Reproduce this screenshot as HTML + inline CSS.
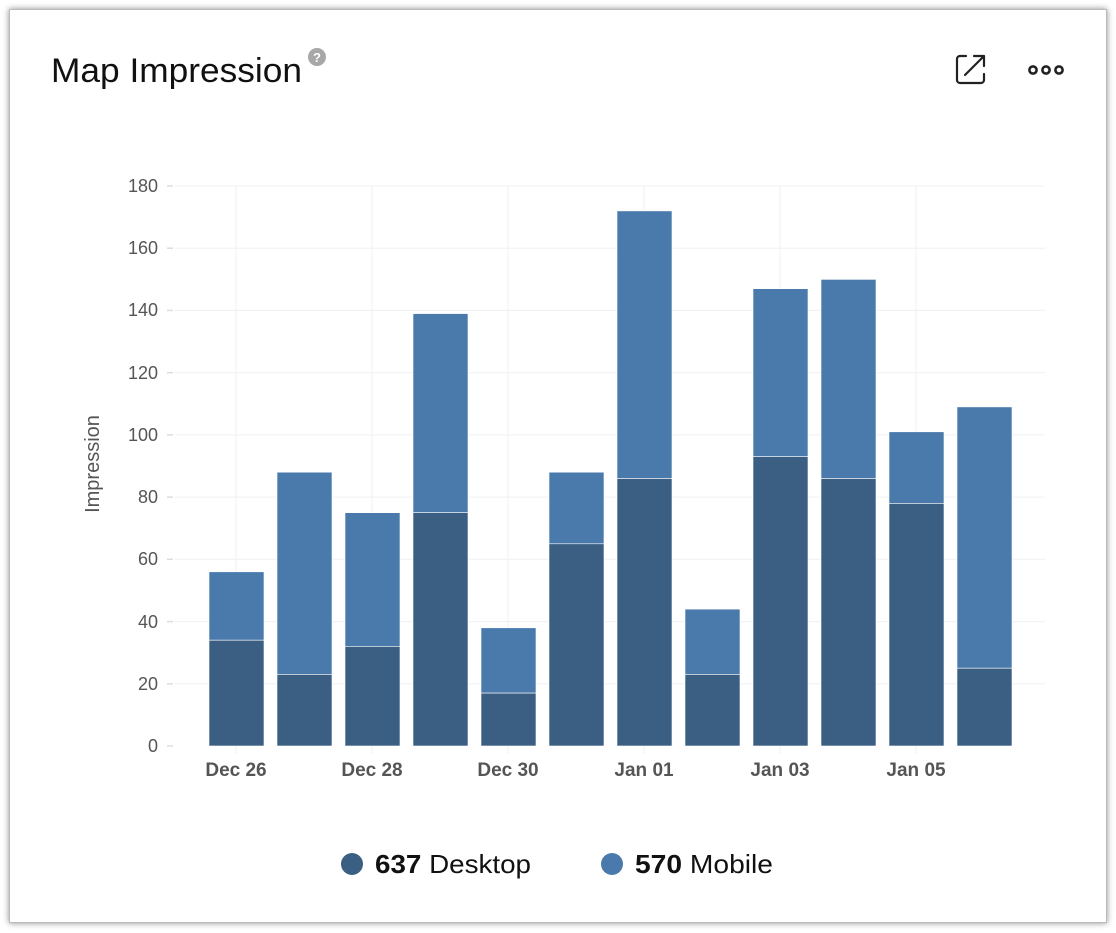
<!DOCTYPE html>
<html><head><meta charset="utf-8"><style>
body{margin:0;width:1116px;height:933px;background:#fff;font-family:"Liberation Sans",sans-serif;overflow:hidden}
.card{position:absolute;left:9px;top:9px;width:1096px;height:912px;border:1px solid #bbb;box-shadow:0 0 6px rgba(0,0,0,.45);background:#fff}
</style></head><body>
<div class="card"></div>
<svg width="1116" height="933" style="position:absolute;left:0;top:0" font-family="Liberation Sans, sans-serif">
<text x="51" y="82" font-size="34" fill="#111" textLength="251" lengthAdjust="spacingAndGlyphs">Map Impression</text>
<circle cx="317" cy="57" r="9" fill="#a8a8a8"/><text x="317" y="62" font-size="13" font-weight="bold" fill="#fff" text-anchor="middle">?</text>
<g fill="none" stroke="#222" stroke-width="2.2" stroke-linecap="round" stroke-linejoin="round">
<path d="M966 56 H960 a3 3 0 0 0 -3 3 V80 a3 3 0 0 0 3 3 H981 a3 3 0 0 0 3 -3 V74"/>
<path d="M965 75 L984 56 M974 56 H984 V66"/>
</g>
<g fill="none" stroke="#222" stroke-width="2.6"><circle cx="1033" cy="70" r="3.6"/><circle cx="1046" cy="70" r="3.6"/><circle cx="1059" cy="70" r="3.6"/></g>
<g stroke="#f0f0f0" stroke-width="1">
<line x1="175" x2="1045" y1="186" y2="186"/><line x1="175" x2="1045" y1="248.2" y2="248.2"/><line x1="175" x2="1045" y1="310.4" y2="310.4"/><line x1="175" x2="1045" y1="372.7" y2="372.7"/><line x1="175" x2="1045" y1="434.9" y2="434.9"/><line x1="175" x2="1045" y1="497.1" y2="497.1"/><line x1="175" x2="1045" y1="559.3" y2="559.3"/><line x1="175" x2="1045" y1="621.6" y2="621.6"/><line x1="175" x2="1045" y1="683.8" y2="683.8"/>
<line x1="236" x2="236" y1="186" y2="754"/><line x1="372" x2="372" y1="186" y2="754"/><line x1="508" x2="508" y1="186" y2="754"/><line x1="644" x2="644" y1="186" y2="754"/><line x1="780" x2="780" y1="186" y2="754"/><line x1="916" x2="916" y1="186" y2="754"/>
</g>
<g stroke="#ddd" stroke-width="1.5">
<line x1="167" x2="173" y1="186" y2="186"/><line x1="167" x2="173" y1="248.2" y2="248.2"/><line x1="167" x2="173" y1="310.4" y2="310.4"/><line x1="167" x2="173" y1="372.7" y2="372.7"/><line x1="167" x2="173" y1="434.9" y2="434.9"/><line x1="167" x2="173" y1="497.1" y2="497.1"/><line x1="167" x2="173" y1="559.3" y2="559.3"/><line x1="167" x2="173" y1="621.6" y2="621.6"/><line x1="167" x2="173" y1="683.8" y2="683.8"/><line x1="167" x2="173" y1="746" y2="746"/>
</g>
<g font-size="18" fill="#555" text-anchor="end">
<text x="158" y="192">180</text><text x="158" y="254">160</text><text x="158" y="316">140</text><text x="158" y="379">120</text><text x="158" y="441">100</text><text x="158" y="503">80</text><text x="158" y="565">60</text><text x="158" y="628">40</text><text x="158" y="690">20</text><text x="158" y="752">0</text>
</g>
<text transform="translate(99,464) rotate(-90)" font-size="20" fill="#555" text-anchor="middle">Impression</text>
<g font-size="19" font-weight="bold" fill="#555" text-anchor="middle">
<text x="236" y="776">Dec 26</text><text x="372" y="776">Dec 28</text><text x="508" y="776">Dec 30</text><text x="644" y="776">Jan 01</text><text x="780" y="776">Jan 03</text><text x="916" y="776">Jan 05</text>
</g>
<g stroke="#fff" stroke-width="0.6">
<rect x="209" y="571.8" width="55" height="68.4" fill="#4a7aab"/><rect x="209" y="640.2" width="55" height="105.8" fill="#3a5f82"/>
<rect x="277" y="472.2" width="55" height="202.2" fill="#4a7aab"/><rect x="277" y="674.4" width="55" height="71.6" fill="#3a5f82"/>
<rect x="345" y="512.7" width="55" height="133.8" fill="#4a7aab"/><rect x="345" y="646.4" width="55" height="99.6" fill="#3a5f82"/>
<rect x="413" y="313.6" width="55" height="199.1" fill="#4a7aab"/><rect x="413" y="512.7" width="55" height="233.3" fill="#3a5f82"/>
<rect x="481" y="627.8" width="55" height="65.3" fill="#4a7aab"/><rect x="481" y="693.1" width="55" height="52.9" fill="#3a5f82"/>
<rect x="549" y="472.2" width="55" height="71.6" fill="#4a7aab"/><rect x="549" y="543.8" width="55" height="202.2" fill="#3a5f82"/>
<rect x="617" y="210.9" width="55" height="267.6" fill="#4a7aab"/><rect x="617" y="478.5" width="55" height="267.5" fill="#3a5f82"/>
<rect x="685" y="609.1" width="55" height="65.3" fill="#4a7aab"/><rect x="685" y="674.4" width="55" height="71.6" fill="#3a5f82"/>
<rect x="753" y="288.7" width="55" height="168" fill="#4a7aab"/><rect x="753" y="456.7" width="55" height="289.3" fill="#3a5f82"/>
<rect x="821" y="279.4" width="55" height="199.1" fill="#4a7aab"/><rect x="821" y="478.5" width="55" height="267.5" fill="#3a5f82"/>
<rect x="889" y="431.8" width="55" height="71.6" fill="#4a7aab"/><rect x="889" y="503.4" width="55" height="242.6" fill="#3a5f82"/>
<rect x="957" y="406.9" width="55" height="261.3" fill="#4a7aab"/><rect x="957" y="668.2" width="55" height="77.8" fill="#3a5f82"/>
</g>
<circle cx="352" cy="864" r="11" fill="#3a5f82"/>
<text x="375" y="873" font-size="26" fill="#111" textLength="156" lengthAdjust="spacingAndGlyphs"><tspan font-weight="bold">637</tspan> Desktop</text>
<circle cx="612" cy="864" r="11" fill="#4a7aab"/>
<text x="635" y="873" font-size="26" fill="#111" textLength="138" lengthAdjust="spacingAndGlyphs"><tspan font-weight="bold">570</tspan> Mobile</text>
</svg>
</body></html>
